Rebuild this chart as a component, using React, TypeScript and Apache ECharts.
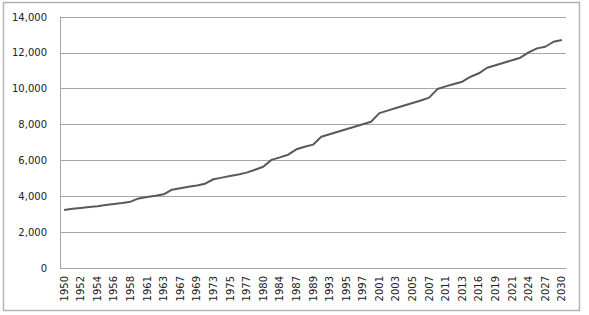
import React, { useEffect, useRef } from "react";
import * as echarts from "echarts";

const years: string[] = [
  "1950", "1951", "1952", "1953", "1954", "1955", "1956", "1957", "1958", "1960",
  "1961", "1962", "1963", "1965", "1967", "1968", "1969", "1971", "1973", "1974",
  "1975", "1976", "1977", "1979", "1980", "1982", "1984", "1986", "1987", "1988",
  "1989", "1991", "1993", "1994", "1995", "1996", "1997", "1999", "2001", "2002",
  "2003", "2004", "2005", "2006", "2007", "2009", "2011", "2012", "2013", "2015",
  "2016", "2018", "2019", "2020", "2021", "2023", "2024", "2026", "2027", "2029",
  "2030",
];

const values: number[] = [
  3240, 3300, 3350, 3400, 3450, 3510, 3570, 3630, 3700, 3880,
  3960, 4030, 4110, 4370, 4450, 4530, 4600, 4700, 4950, 5040,
  5130, 5220, 5320, 5480, 5650, 6030, 6170, 6320, 6620, 6760,
  6880, 7320, 7460, 7600, 7740, 7880, 8020, 8160, 8640, 8780,
  8920, 9060, 9200, 9340, 9500, 9980, 10130, 10260, 10390, 10670,
  10860, 11170, 11310, 11450, 11590, 11730, 12030, 12250, 12340, 12620,
  12720,
];

const yMin = 0;
const yMax = 14000;
const yStep = 2000;

export default function App() {
  const ref = useRef<HTMLDivElement>(null);
  useEffect(() => {
    if (!ref.current) return;
    const chart = echarts.init(ref.current, undefined, { renderer: "svg" });
    const font = "DejaVu Sans";
    chart.setOption({
      animation: false,
      backgroundColor: "#ffffff",
      graphic: [
        {
          type: "rect",
          shape: { x: 3.5, y: 2.5, width: 576, height: 308 },
          style: { fill: "none", stroke: "#b4b4b4", lineWidth: 1.5 },
          silent: true,
        },
      ],
      grid: { left: 60, right: 23, top: 17, bottom: 47, containLabel: false },
      xAxis: {
        type: "category",
        data: years,
        boundaryGap: true,
        axisLine: { show: true, lineStyle: { color: "#a6a6a6", width: 1 } },
        axisTick: { show: false },
        axisLabel: {
          interval: 1,
          rotate: 90,
          margin: 8,
          color: "#222222",
          fontFamily: font,
          fontSize: 10,
        },
        splitLine: { show: false },
      },
      yAxis: {
        type: "value",
        min: yMin,
        max: yMax,
        interval: yStep,
        axisLine: { show: true, lineStyle: { color: "#a6a6a6", width: 1 } },
        axisTick: { show: false },
        axisLabel: {
          margin: 13,
          color: "#222222",
          fontFamily: font,
          fontSize: 10,
          formatter: (v: number) => v.toLocaleString("en-US"),
        },
        splitLine: { show: true, lineStyle: { color: "#a6a6a6", width: 1 } },
      },
      series: [
        {
          type: "line",
          data: values,
          symbol: "none",
          smooth: false,
          lineStyle: { color: "#595959", width: 2 },
        },
      ],
    });
    return () => chart.dispose();
  }, []);
  return (
    <div
      ref={ref}
      style={{ position: "fixed", left: 0, top: 0, width: 589, height: 315 }}
    />
  );
}
